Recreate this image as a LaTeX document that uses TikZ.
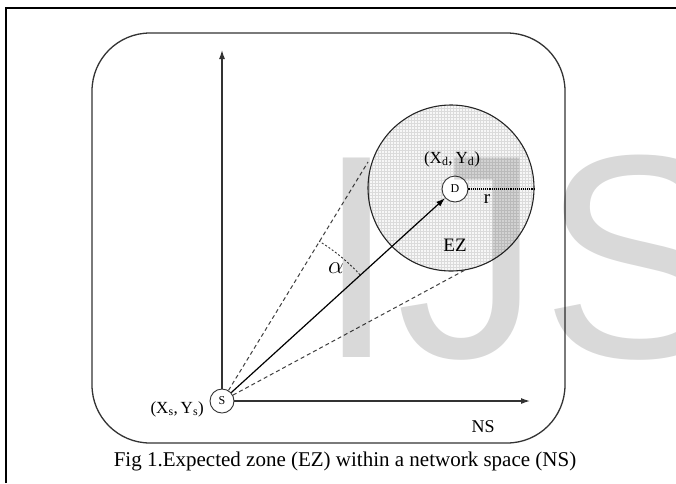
\documentclass[tikz,border=0pt]{standalone}
\usepackage{fontspec}
\setmainfont{Liberation Serif}
\newfontfamily\wmfont{Liberation Sans}
\usetikzlibrary{arrows.meta,patterns}
\begin{document}
\begin{tikzpicture}[x=1pt,y=-1pt,
  axis/.style={draw=black!80, line width=1.2pt, -{Latex[length=9pt,width=6pt]}},
  small/.style={circle, draw=black!80, line width=0.9pt, minimum size=24pt, inner sep=0pt, fill=white, font=\fontsize{12}{12}\selectfont},
  lbl/.style={inner sep=0pt, font=\fontsize{17}{17}\selectfont},
  tangent/.style={draw=black!75, line width=1pt, dash pattern=on 4pt off 3pt},
]
\useasboundingbox (0,0) rectangle (676,483);
\fill[white] (0,0) rectangle (676,483);
\draw[line width=2pt] (6,483) -- (6,8) -- (676,8);
\draw[black!80, line width=1.3pt, rounded corners=58pt] (92,33) rectangle (565,443);
\coordinate (C) at (451,188);
\fill[gray!6] (C) circle[radius=83pt];
\fill[pattern=grid, pattern color=gray!28] (C) circle[radius=83pt];
\draw[black!85, line width=1.1pt] (C) circle[radius=83pt];
\node[small] (S) at (222,401) {S};
\node[small, minimum size=26pt] (D) at (455,189) {D};
\coordinate (T1) at (368,162);
\coordinate (T2) at (465,270);
\coordinate (Ytop) at (222,50);
\coordinate (Xend) at (530,401);
\coordinate (R) at (534,189);
\draw[axis] (S.north) -- (Ytop);
\draw[axis] (S.east) -- (Xend);
\draw[tangent] (S) -- (T1);
\draw[tangent] (S) -- (T2);
\draw[black, line width=1.2pt, -{Latex[length=9pt,width=6pt]}] (S) -- (D);
\draw[black, line width=1.1pt, densely dotted] (D.east) -- (R);
\draw[black!80, line width=0.9pt, dash pattern=on 2pt off 2pt] plot[domain=42.4:58.7,samples=30] ({222+187*cos(\x)},{401-187*sin(\x)});
\node[lbl] (xd) at (452,159) {(X\textsubscript{d},\,Y\textsubscript{d})};
\node[inner sep=0pt, font=\fontsize{19}{19}\selectfont] (r) at (487,199) {r};
\node[inner sep=0pt, font=\fontsize{19}{19}\selectfont] (ez) at (455,245) {EZ};
\node[inner sep=0pt, font=\fontsize{18}{18}\selectfont] (ns) at (483,427) {NS};
\node[lbl, anchor=east] (xs) at (204,409) {(X\textsubscript{s},\,Y\textsubscript{s})};
\node[inner sep=0pt, font=\fontsize{30}{30}\selectfont] (alpha) at (336,268) {$\alpha$};
\node[inner sep=0pt, font=\fontsize{21}{21}\selectfont] (cap) at (345,461) {Fig 1.Expected zone (EZ) within a network space (NS)};
\node[anchor=base west, inner sep=0pt, text=black, text opacity=0.15, font=\wmfont\fontsize{290}{290}\selectfont] (wm) at (316,357) {IJS};
\end{tikzpicture}
\end{document}
